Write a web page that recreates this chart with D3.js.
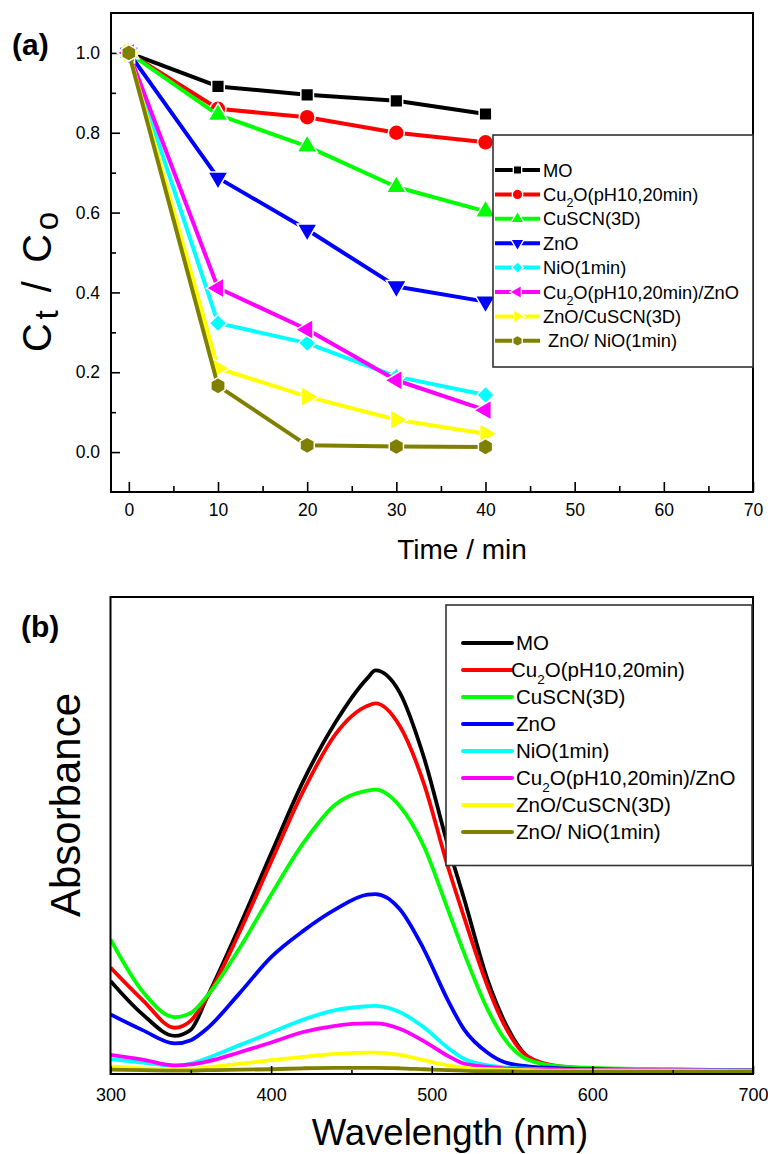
<!DOCTYPE html>
<html><head><meta charset="utf-8">
<script src="https://cdn.jsdelivr.net/npm/d3@7"></script>
<style>
body{margin:0;background:#fff}
svg{display:block}
text{font-family:Arial,"Liberation Sans",sans-serif;fill:#000}
</style>
</head><body><svg id="c" width="768" height="1154"></svg>
<script>
// ---------- data ----------
const seriesNamesA = ["MO","Cu_2O(pH10,20min)","CuSCN(3D)","ZnO","NiO(1min)","Cu_2O(pH10,20min)/ZnO","ZnO/CuSCN(3D)"," ZnO/ NiO(1min)"];
const seriesNamesB = ["MO","Cu_2O(pH10,20min)","CuSCN(3D)","ZnO","NiO(1min)","Cu_2O(pH10,20min)/ZnO","ZnO/CuSCN(3D)","ZnO/ NiO(1min)"];
const seriesColors = ["#000000","#ff0000","#00ff00","#0000ff","#00ffff","#ff00ff","#ffff00","#808000"];
const seriesMarkers = ["square","circle","triUp","triDown","diamond","triLeft","triRight","hexagon"];

// panel (a): Ct/Co vs time
const timeMin = [0,10,20,30,40];
const ratioMO        = [1.0,0.916,0.895,0.880,0.847];
const ratioCu2O      = [1.0,0.860,0.839,0.800,0.776];
const ratioCuSCN     = [1.0,0.845,0.766,0.664,0.603];
const ratioZnO       = [1.0,0.687,0.557,0.415,0.377];
const ratioNiO       = [1.0,0.323,0.273,0.189,0.143];
const ratioCu2OZnO   = [1.0,0.411,0.307,0.180,0.105];
const ratioZnOCuSCN  = [1.0,0.210,0.139,0.081,0.046];
const ratioZnONiO    = [1.0,0.166,0.017,0.014,0.013];
const timeMajorTicks = [0,10,20,30,40,50,60,70];
const timeMinorTicks = [5,15,25,35,45,55,65];
const ratioMajorTicks = [0.0,0.2,0.4,0.6,0.8,1.0];
const ratioMinorTicks = [0.1,0.3,0.5,0.7,0.9];

// panel (b): absorbance spectra
const wavelength = [300,320,340,350,360,380,400,420,440,460,465,480,495,510,520,535,545,560,580,600,650,700];
const absMO       = [0.195,0.125,0.080,0.093,0.160,0.307,0.462,0.614,0.737,0.830,0.846,0.800,0.665,0.480,0.369,0.195,0.112,0.036,0.013,0.010,0.008,0.007];
const absCu2O     = [0.223,0.155,0.097,0.112,0.160,0.295,0.445,0.593,0.712,0.772,0.777,0.730,0.610,0.435,0.330,0.182,0.104,0.036,0.016,0.012,0.009,0.007];
const absCuSCN    = [0.282,0.173,0.119,0.128,0.163,0.262,0.376,0.484,0.565,0.594,0.596,0.562,0.478,0.345,0.255,0.134,0.075,0.030,0.016,0.013,0.010,0.007];
const absZnO      = [0.125,0.092,0.064,0.071,0.095,0.168,0.245,0.300,0.345,0.376,0.377,0.346,0.262,0.155,0.094,0.044,0.025,0.016,0.012,0.010,0.008,0.007];
const absNiO      = [0.031,0.024,0.017,0.022,0.033,0.060,0.087,0.114,0.134,0.142,0.143,0.130,0.098,0.055,0.032,0.018,0.014,0.011,0.009,0.008,0.008,0.007];
const absCu2OZnO  = [0.040,0.030,0.018,0.020,0.026,0.045,0.066,0.088,0.101,0.106,0.106,0.095,0.069,0.038,0.022,0.015,0.012,0.010,0.009,0.008,0.008,0.007];
const absZnOCuSCN = [0.016,0.012,0.009,0.010,0.014,0.021,0.029,0.036,0.042,0.045,0.045,0.040,0.029,0.018,0.013,0.010,0.009,0.008,0.007,0.007,0.007,0.006];
const absZnONiO   = [0.009,0.008,0.007,0.007,0.008,0.009,0.010,0.012,0.013,0.013,0.013,0.012,0.010,0.008,0.007,0.006,0.006,0.005,0.005,0.005,0.005,0.005];
const wlMajorTicks = [300,400,500,600,700];
const wlMinorTicks = [350,450,550,650];

const ratioSeries = [ratioMO,ratioCu2O,ratioCuSCN,ratioZnO,ratioNiO,ratioCu2OZnO,ratioZnOCuSCN,ratioZnONiO];
const absSeries = [absMO,absCu2O,absCuSCN,absZnO,absNiO,absCu2OZnO,absZnOCuSCN,absZnONiO];

// ---------- helpers ----------
const svg = d3.select("#c");
const hexagon = {draw(ctx,size){const r=Math.sqrt(size/(3*Math.sqrt(3)/2));for(let i=0;i<6;i++){const a=Math.PI/3*i+Math.PI/6;const x=r*Math.cos(a),y=r*Math.sin(a);if(i===0)ctx.moveTo(x,y);else ctx.lineTo(x,y);}ctx.closePath();}};
function markerPath(kind,size){
  const t = {square:d3.symbolSquare,circle:d3.symbolCircle,triUp:d3.symbolTriangle,triDown:d3.symbolTriangle,diamond:d3.symbolSquare,triLeft:d3.symbolTriangle,triRight:d3.symbolTriangle,hexagon:hexagon}[kind];
  const s = {square:1,circle:1.25,triUp:1.1,triDown:1.1,diamond:0.95,triLeft:1.1,triRight:1.1,hexagon:1.1}[kind]*size;
  return d3.symbol().type(t).size(s)();
}
function markerRot(kind){return {triDown:180,diamond:45,triLeft:-90,triRight:90}[kind]||0;}
function richText(sel,str,subSize,subDy){
  const parts = str.split(/_(.)/);
  let shift = 0;
  parts.forEach((p,i)=>{
    if(p==="")return;
    if(i%2===1){sel.append("tspan").attr("font-size",subSize).attr("dy",subDy-shift).text(p);shift=subDy;}
    else{sel.append("tspan").attr("dy",-shift).text(p);shift=0;}
  });
}

// ---------- panel (a) ----------
const xA = d3.scaleLinear().domain([-2,70]).range([111,753]);
const yA = d3.scaleLinear().domain([-0.1,1.1]).range([492,13]);
const gA = svg.append("g");

function styleAxis(g){g.select(".domain").remove();g.selectAll(".tick line").attr("stroke","#000").attr("stroke-width",1.6);}
gA.append("g").attr("transform",`translate(0,${yA.range()[0]})`)
  .call(d3.axisBottom(xA).tickValues(timeMajorTicks).tickSize(-10).tickPadding(12).tickFormat(d3.format("d")))
  .call(styleAxis).selectAll("text").attr("font-size",17.5);
gA.append("g").attr("transform",`translate(0,${yA.range()[0]})`)
  .call(d3.axisBottom(xA).tickValues(timeMinorTicks).tickSize(-6).tickFormat(""))
  .call(styleAxis);
gA.append("g").attr("transform",`translate(${xA.range()[0]},0)`)
  .call(d3.axisLeft(yA).tickValues(ratioMajorTicks).tickSize(-9).tickPadding(11).tickFormat(d3.format(".1f")))
  .call(styleAxis).selectAll("text").attr("font-size",17.5);
gA.append("g").attr("transform",`translate(${xA.range()[0]},0)`)
  .call(d3.axisLeft(yA).tickValues(ratioMinorTicks).tickSize(-5).tickFormat(""))
  .call(styleAxis);
gA.append("rect").attr("x",xA.range()[0]).attr("y",yA.range()[1])
  .attr("width",xA.range()[1]-xA.range()[0]).attr("height",yA.range()[0]-yA.range()[1])
  .attr("fill","none").attr("stroke","#000").attr("stroke-width",2);

const lineA = d3.line().x((d,i)=>xA(timeMin[i])).y(d=>yA(d));
ratioSeries.forEach((s,k)=>{
  gA.append("path").attr("d",lineA(s)).attr("fill","none").attr("stroke",seriesColors[k]).attr("stroke-width",4).attr("stroke-linejoin","round");
  gA.selectAll(null).data(s).enter().append("path")
    .attr("d",markerPath(seriesMarkers[k],160))
    .attr("transform",(d,i)=>`translate(${xA(timeMin[i])},${yA(d)}) rotate(${markerRot(seriesMarkers[k])})`)
    .attr("fill",seriesColors[k]).attr("stroke","#fff").attr("stroke-width",1.5);
});

// legend (a)
gA.append("rect").attr("x",493).attr("y",135).attr("width",260).attr("height",232)
  .attr("fill","#fff").attr("stroke","#333").attr("stroke-width",1.6);
seriesNamesA.forEach((n,k)=>{
  const cy = 170 + k*24.4;
  gA.append("line").attr("x1",495).attr("x2",540).attr("y1",cy).attr("y2",cy).attr("stroke",seriesColors[k]).attr("stroke-width",4);
  gA.append("path").attr("d",markerPath(seriesMarkers[k],70))
    .attr("transform",`translate(517.5,${cy}) rotate(${markerRot(seriesMarkers[k])})`)
    .attr("fill",seriesColors[k]).attr("stroke","#fff").attr("stroke-width",1.3);
  const t = gA.append("text").attr("x",543).attr("y",cy+6.5).attr("font-size",18.3).style("white-space","pre");
  richText(t,n,12.5,6);
});

// titles (a)
svg.append("text").attr("x",12).attr("y",55).attr("font-size",30).attr("font-weight","bold").text("(a)");
svg.append("text").attr("x",462).attr("y",559).attr("text-anchor","middle").attr("font-size",28).text("Time / min");
const ytA = svg.append("text").attr("transform","translate(51,282) rotate(-90)").attr("text-anchor","middle")
  .attr("font-size",40).attr("textLength",140).attr("lengthAdjust","spacing");
richText(ytA,"C_t / C_o",33,7);

// ---------- panel (b) ----------
const xB = d3.scaleLinear().domain([300,700]).range([110.5,753]);
const yB = d3.scaleLinear().domain([0,1]).range([1074,597]);
const gB = svg.append("g");
gB.append("clipPath").attr("id","clipB").append("rect")
  .attr("x",xB.range()[0]).attr("y",yB.range()[1]).attr("width",xB.range()[1]-xB.range()[0]).attr("height",yB.range()[0]-yB.range()[1]);

const lineB = d3.line().x((d,i)=>xB(wavelength[i])).y(d=>yB(d)).curve(d3.curveMonotoneX);
const gLines = gB.append("g").attr("clip-path","url(#clipB)");
absSeries.forEach((s,k)=>{
  gLines.append("path").attr("d",lineB(s)).attr("fill","none").attr("stroke",seriesColors[k]).attr("stroke-width",3.8).attr("stroke-linejoin","round");
});
gB.append("g").attr("transform",`translate(0,${yB.range()[0]})`)
  .call(d3.axisBottom(xB).tickValues(wlMajorTicks).tickSize(-8).tickPadding(14).tickFormat(d3.format("d")))
  .call(styleAxis).selectAll("text").attr("font-size",18);
gB.append("g").attr("transform",`translate(0,${yB.range()[0]})`)
  .call(d3.axisBottom(xB).tickValues(wlMinorTicks).tickSize(-4).tickFormat(""))
  .call(styleAxis);
gB.append("rect").attr("x",xB.range()[0]).attr("y",yB.range()[1])
  .attr("width",xB.range()[1]-xB.range()[0]).attr("height",yB.range()[0]-yB.range()[1])
  .attr("fill","none").attr("stroke","#000").attr("stroke-width",2);

// legend (b)
gB.append("rect").attr("x",446).attr("y",605).attr("width",306).attr("height",260.5)
  .attr("fill","#fff").attr("stroke","#333").attr("stroke-width",1.6);
seriesNamesB.forEach((n,k)=>{
  const cy = 643 + k*27;
  gB.append("line").attr("x1",463).attr("x2",512).attr("y1",cy).attr("y2",cy).attr("stroke",seriesColors[k]).attr("stroke-width",4).attr("stroke-linecap","round");
  const t = gB.append("text").attr("x",k===1?511:516).attr("y",cy+7).attr("font-size",20.5).style("white-space","pre");
  richText(t,n,13.5,7);
});

// titles (b)
svg.append("text").attr("x",21).attr("y",637).attr("font-size",30).attr("font-weight","bold").text("(b)");
svg.append("text").attr("x",450).attr("y",1145).attr("text-anchor","middle").attr("font-size",36.5).text("Wavelength (nm)");
svg.append("text").attr("transform","translate(80,805) rotate(-90)").attr("text-anchor","middle").attr("font-size",42).text("Absorbance");
</script></body></html>
